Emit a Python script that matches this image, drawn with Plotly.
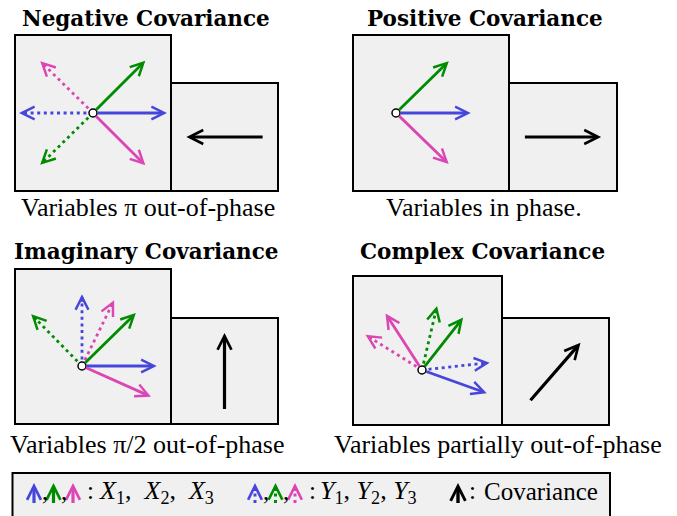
import math
import plotly.graph_objects as go

W, H = 677, 516
UNIT = 74.0      # pixels per unit magnitude

# ---------------- data ----------------
titles = ["Negative Covariance", "Positive Covariance",
          "Imaginary Covariance", "Complex Covariance"]
captions = ["Variables π out-of-phase", "Variables in phase.",
            "Variables π/2 out-of-phase", "Variables partially out-of-phase"]

# X1, X2, X3 (solid) : magnitude and phase angle (deg)
x_mag = [[1.0, 1.0, 1.0], [1.01, 1.0, 0.99], [1.01, 1.02, 1.02], [0.93, 0.90, 0.91]]
x_ang = [[0, 45, -45], [0, 44.5, -44], [0, 44.5, -24], [-19.7, 51.9, 122.8]]
# Y1, Y2, Y3 (dotted)
y_mag = [[1.0, 1.0, 1.0], [], [0.97, 0.98, 0.99], [0.92, 0.89, 0.90]]
y_ang = [[180, 224.5, 135.5], [], [90, 134.5, 64], [6.2, 76.8, 148.1]]
# covariance
cov_mag = [1.03, 1.03, 1.03, 1.03]
cov_ang = [180, 0, 90, 49]

legend_x_label = "<i>X</i><sub>1</sub>,&nbsp; <i>X</i><sub>2</sub>,&nbsp; <i>X</i><sub>3</sub>"
legend_y_label = "<i>Y</i><sub>1</sub>, <i>Y</i><sub>2</sub>, <i>Y</i><sub>3</sub>"
legend_cov_label = "Covariance"

# ---------------- styles / layout ----------------
BLUE, GREEN, MAGENTA = "#4646dc", "#008c00", "#dc46b4"
COLORS = [BLUE, GREEN, MAGENTA]
FILL = "#f0f0f0"
LW = 2.8
HEAD = 0.9
HEAD_BACKOFF = 2.0   # plotly's back-off (in head units) for arrowhead style 5
SERIF = "Liberation Serif, Times New Roman, serif"
BOLD = "DejaVu Serif, serif"

panels = [
    dict(big=(15, 171, 35, 191), small=(171, 278, 83, 191), origin=(93, 113),
         title=(146, 18.5), caption=(147.5, 207)),
    dict(big=(353, 509, 35, 191), small=(509, 617, 83, 191), origin=(396, 113),
         title=(484.5, 18.5), caption=(484, 207)),
    dict(big=(15, 171, 269, 424), small=(171, 278, 318, 424), origin=(82, 366),
         title=(146.5, 251), caption=(147, 444)),
    dict(big=(353, 502, 276, 425), small=(502, 609, 318, 425), origin=(422, 370),
         title=(482, 251), caption=(497.5, 444)),
]

fig = go.Figure()
shapes, annotations = [], []


def vec(mag, ang):
    r = math.radians(ang)
    return UNIT * mag * math.cos(r), -UNIT * mag * math.sin(r)


def arrow(tip, tail, color, width, size=HEAD, startstand=0):
    annotations.append(dict(
        x=tip[0], y=tip[1], ax=tail[0], ay=tail[1], xref="x", yref="y",
        axref="x", ayref="y", text="", showarrow=True, arrowhead=5,
        arrowsize=size, arrowwidth=width, arrowcolor=color, standoff=0,
        startstandoff=startstand, borderpad=0, borderwidth=0, font=dict(size=1)))


def dotted_arrow(tip, origin, color, width, size=HEAD):
    dx, dy = tip[0] - origin[0], tip[1] - origin[1]
    L = math.hypot(dx, dy)
    ux, uy = dx / L, dy / L
    end = (tip[0] - ux * 3, tip[1] - uy * 3)
    fig.add_trace(go.Scatter(x=[origin[0], end[0]], y=[origin[1], end[1]],
                             mode="lines", hoverinfo="skip", showlegend=False,
                             line=dict(color=color, width=width, dash="3px,3.6px")))
    # head only: full-length annotation whose shaft is pushed up under the head
    back = HEAD_BACKOFF * width * size
    arrow(tip, origin, color, width, size, startstand=max(L - back - 2.5, 0))


for i, p in enumerate(panels):
    for key in ("big", "small"):
        x0, x1, y0, y1 = p[key]
        shapes.append(dict(type="rect", x0=x0, x1=x1, y0=y0, y1=y1, xref="x", yref="y",
                           line=dict(color="black", width=2), fillcolor=FILL, layer="below"))
    ox, oy = p["origin"]
    for k, (m, a) in enumerate(zip(y_mag[i], y_ang[i])):
        vx, vy = vec(m, a)
        dotted_arrow((ox + vx, oy + vy), (ox, oy), COLORS[k], LW)
    for k, (m, a) in enumerate(zip(x_mag[i], x_ang[i])):
        vx, vy = vec(m, a)
        arrow((ox + vx, oy + vy), (ox, oy), COLORS[k], LW, startstand=4.5)
    fig.add_trace(go.Scatter(x=[ox], y=[oy], mode="markers", hoverinfo="skip",
                             showlegend=False,
                             marker=dict(size=8, color="white",
                                         line=dict(color="black", width=1.5))))
    x0, x1, y0, y1 = p["small"]
    cx, cy = (x0 + x1) / 2, (y0 + y1) / 2
    vx, vy = vec(cov_mag[i], cov_ang[i])
    arrow((cx + vx / 2, cy + vy / 2), (cx - vx / 2, cy - vy / 2), "black", 3.2, 0.85)
    annotations.append(dict(x=p["title"][0], y=p["title"][1], xref="x", yref="y",
                            text="<b>%s</b>" % titles[i], showarrow=False,
                            xanchor="center", yanchor="middle", borderpad=0,
                            font=dict(family=BOLD, size=21.5, color="black")))
    annotations.append(dict(x=p["caption"][0], y=p["caption"][1], xref="x", yref="y",
                            text=captions[i], showarrow=False,
                            xanchor="center", yanchor="middle",
                            font=dict(family=SERIF, size=26, color="black")))

# ---------------- legend ----------------
shapes.append(dict(type="rect", x0=12.5, x1=610, y0=473, y1=540, xref="x", yref="y",
                   line=dict(color="black", width=2), fillcolor=FILL, layer="below"))
leg_top, leg_bot, leg_mid = 483, 503, 491.5
for k, lx in enumerate([34, 53.5, 73]):
    arrow((lx, leg_top), (lx, leg_bot), COLORS[k], 3.2, 0.85)
for k, lx in enumerate([255, 275.5, 295]):
    dotted_arrow((lx, leg_top), (lx, leg_bot), COLORS[k], 3.0, 0.9)
arrow((458, leg_top), (458, leg_bot), "black", 3.4, 0.85)
for cx in [45, 64, 265.5, 286]:
    annotations.append(dict(x=cx, y=leg_mid, xref="x", yref="y", text=",",
                            showarrow=False, xanchor="center", yanchor="middle",
                            font=dict(family=SERIF, size=25, color="black")))
for cx in [90, 312, 472]:
    annotations.append(dict(x=cx, y=leg_mid - 1, xref="x", yref="y", text=":",
                            showarrow=False, xanchor="center", yanchor="middle",
                            font=dict(family=SERIF, size=25, color="black")))
for lx, txt, sz in [(97, legend_x_label, 26), (318, legend_y_label, 26),
                    (482, legend_cov_label, 25)]:
    annotations.append(dict(x=lx, y=leg_mid, xref="x", yref="y", text=txt,
                            showarrow=False, xanchor="left", yanchor="middle",
                            font=dict(family=SERIF, size=sz, color="black")))

fig.update_layout(
    width=W, height=H, autosize=False,
    margin=dict(l=0, r=0, t=0, b=0),
    paper_bgcolor="white", plot_bgcolor="white",
    xaxis=dict(range=[0, W], visible=False, fixedrange=True),
    yaxis=dict(range=[H, 0], visible=False, fixedrange=True),
    shapes=shapes, annotations=annotations, showlegend=False,
)
fig.write_html("out.html", config={"displayModeBar": False},
               post_script="document.body.style.margin='0px';")
